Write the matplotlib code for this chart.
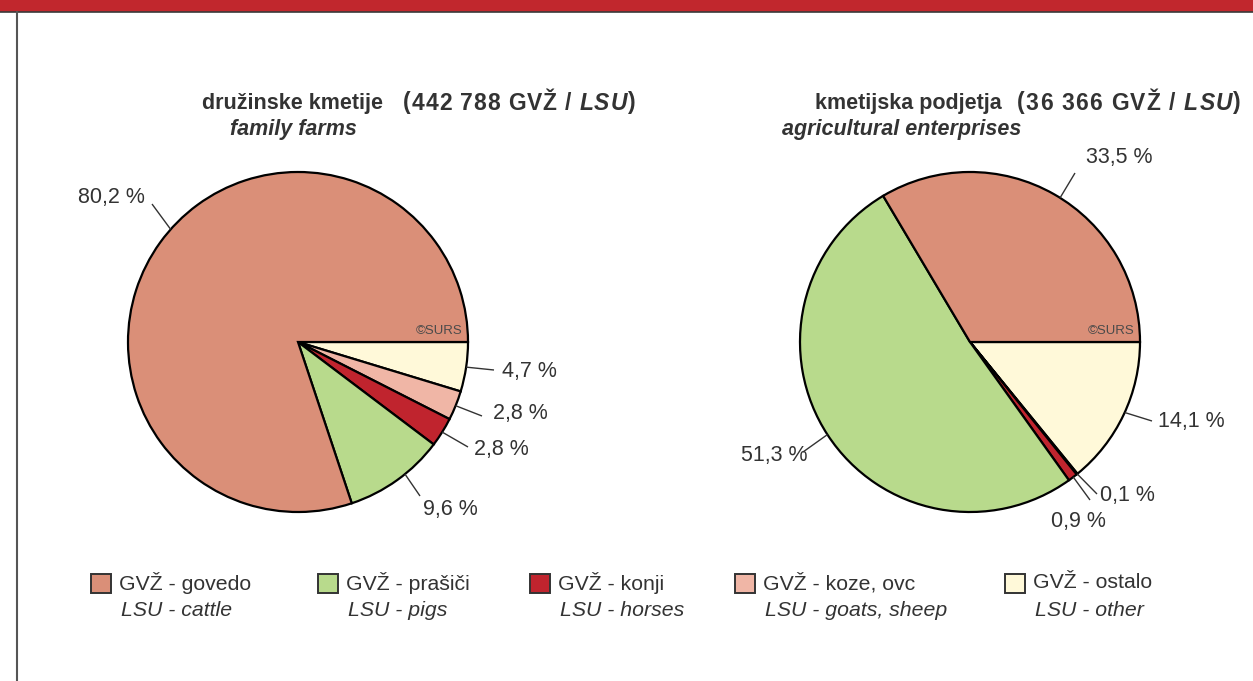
import matplotlib
matplotlib.use('Agg')
import matplotlib.pyplot as plt
from matplotlib.patches import Rectangle
from matplotlib.lines import Line2D
from matplotlib.font_manager import FontProperties
import numpy as np

plt.rcParams['font.family'] = ['Liberation Sans', 'DejaVu Sans']

W, H = 1253, 681

# ---- data ----
categories_sl = ['GVŽ - govedo', 'GVŽ - prašiči', 'GVŽ - konji', 'GVŽ - koze, ovc', 'GVŽ - ostalo']
categories_en = ['LSU - cattle', 'LSU - pigs', 'LSU - horses', 'LSU - goats, sheep', 'LSU - other']
family_farms = [80.2, 9.6, 2.8, 2.8, 4.7]          # cattle, pigs, horses, goats/sheep, other
enterprises = [33.5, 51.3, 0.9, 0.1, 14.1]
family_labels = ['80,2 %', '9,6 %', '2,8 %', '2,8 %', '4,7 %']
enterprise_labels = ['33,5 %', '51,3 %', '0,9 %', '0,1 %', '14,1 %']
colors = ['#DA8F78', '#B8DA8C', '#C0242E', '#F0B6A6', '#FFF9D9']

# drawing order: clockwise from 3 o'clock: other, goats, horses, pigs, cattle
order = [4, 3, 2, 1, 0]

TXT = '#333333'

fig = plt.figure(figsize=(W / 100, H / 100), dpi=100)
fig.patch.set_facecolor('white')

# header band and frame line
fig.patches.append(Rectangle((0, 1 - 12 / H), 1, 12 / H, transform=fig.transFigure,
                             facecolor='#C1272D', edgecolor='none', zorder=0))
fig.lines.append(Line2D([0, 1], [1 - 12 / H, 1 - 12 / H], transform=fig.transFigure,
                        color='#3a3a3a', lw=1.2))
fig.lines.append(Line2D([17 / W, 17 / W], [0, 1 - 12 / H], transform=fig.transFigure,
                        color='#555555', lw=1.5))


def pie_axes(cx, cy, r):
    return fig.add_axes([(cx - r) / W, (H - cy - r) / H, 2 * r / W, 2 * r / H])


def draw_pie(cx, cy, r, values, labels, label_pos, anchor_ang, line_end):
    ax = pie_axes(cx, cy, r)
    vals = [values[i] for i in order]
    cols = [colors[i] for i in order]
    wedges, _ = ax.pie(vals, colors=cols, startangle=0, counterclock=False,
                       wedgeprops=dict(edgecolor='black', linewidth=1.6))
    for w in wedges:
        w.set_clip_on(False)
    ax.set_xlim(-1, 1)
    ax.set_ylim(-1, 1)
    ax.set_aspect('equal')
    ax.axis('off')
    for i in range(len(values)):
        lx, ly = label_pos[i]
        ex, ey = line_end[i]
        a = np.deg2rad(anchor_ang[i])
        ax.plot([np.cos(a), (ex - cx) / r], [np.sin(a), (cy - ey) / r],
                color='#333333', lw=1.0, clip_on=False, solid_capstyle='butt')
        ax.text((lx - cx) / r, (cy - ly) / r, labels[i], ha='center', va='center',
                fontsize=15.5, color=TXT, clip_on=False)
    ax.text(0.97, 0.03, '©SURS', ha='right', va='bottom', fontsize=9.5, color='#4a4a4a')
    return ax


# label centres (pixels), anchor angles and leader-line ends, in category order
draw_pie(298, 342, 170, family_farms, family_labels,
         [(111, 198), (450, 510), (501, 450), (520, 414), (529, 371)],
         [138.5, -51, -32, -22, -8.5],
         [(152, 204), (420, 496), (468, 447), (482, 416), (494, 370)])
draw_pie(970, 342, 170, enterprises, enterprise_labels,
         [(1119, 158), (774, 455), (1078, 521), (1127, 495), (1191, 421)],
         [58, -147, -52.6, -50.9, -24.5],
         [(1075, 173), (803, 452), (1090, 500), (1097, 494), (1152, 421)])

renderer = fig.canvas.get_renderer()


def text_run(x_px, y_px, parts, fontsize, track=0.0):
    """Draw consecutive text pieces, optionally letter-spaced by `track` px."""
    x = x_px
    for s, kw in parts:
        prop = FontProperties(family=['Liberation Sans', 'DejaVu Sans'], size=fontsize,
                              weight=kw.get('fontweight', 'normal'),
                              style=kw.get('fontstyle', 'normal'))
        if track == 0:
            t = fig.text(x / W, 1 - y_px / H, s, fontproperties=prop, ha='left',
                         va='center', color=TXT)
            x = t.get_window_extent(renderer).x1
        else:
            for k, ch in enumerate(s):
                w_prefix = renderer.get_text_width_height_descent(s[:k], prop, ismath=False)[0] if k else 0
                if ch != ' ':
                    fig.text((x + w_prefix + k * track) / W, 1 - y_px / H, ch,
                             fontproperties=prop, ha='left', va='center', color=TXT)
            w_all = renderer.get_text_width_height_descent(s, prop, ismath=False)[0]
            x = x + w_all + len(s) * track


B = dict(fontweight='bold')
BI = dict(fontweight='bold', fontstyle='italic')
text_run(202, 104, [('družinske kmetije', B)], 15.5)
text_run(403, 103, [('(442 788 GVŽ / ', B), ('LSU', BI), (')', B)], 16.5, track=0.9)
text_run(230, 130, [('family farms', BI)], 15.5)

text_run(815, 104, [('kmetijska podjetja', B)], 15.5)
text_run(1017, 103, [('(36 366 GVŽ / ', B), ('LSU', BI), (')', B)], 16.5, track=1.2)
text_run(782, 130, [('agricultural enterprises', BI)], 15.5)

# legend
leg_x = [91, 318, 530, 735, 1005]
for i in range(5):
    x = leg_x[i]
    fig.patches.append(Rectangle((x / W, 1 - 593 / H), 20 / W, 19 / H,
                                 transform=fig.transFigure, facecolor=colors[i],
                                 edgecolor='#333333', lw=1.4))
    fig.text((x + 28) / W, 1 - 583 / H, categories_sl[i], fontsize=15.3, color=TXT,
             ha='left', va='center')
    fig.text((x + 30) / W, 1 - 610 / H, categories_en[i], fontsize=15.3, color=TXT,
             ha='left', va='center', fontstyle='italic')

fig.savefig('out.png', dpi=100)
